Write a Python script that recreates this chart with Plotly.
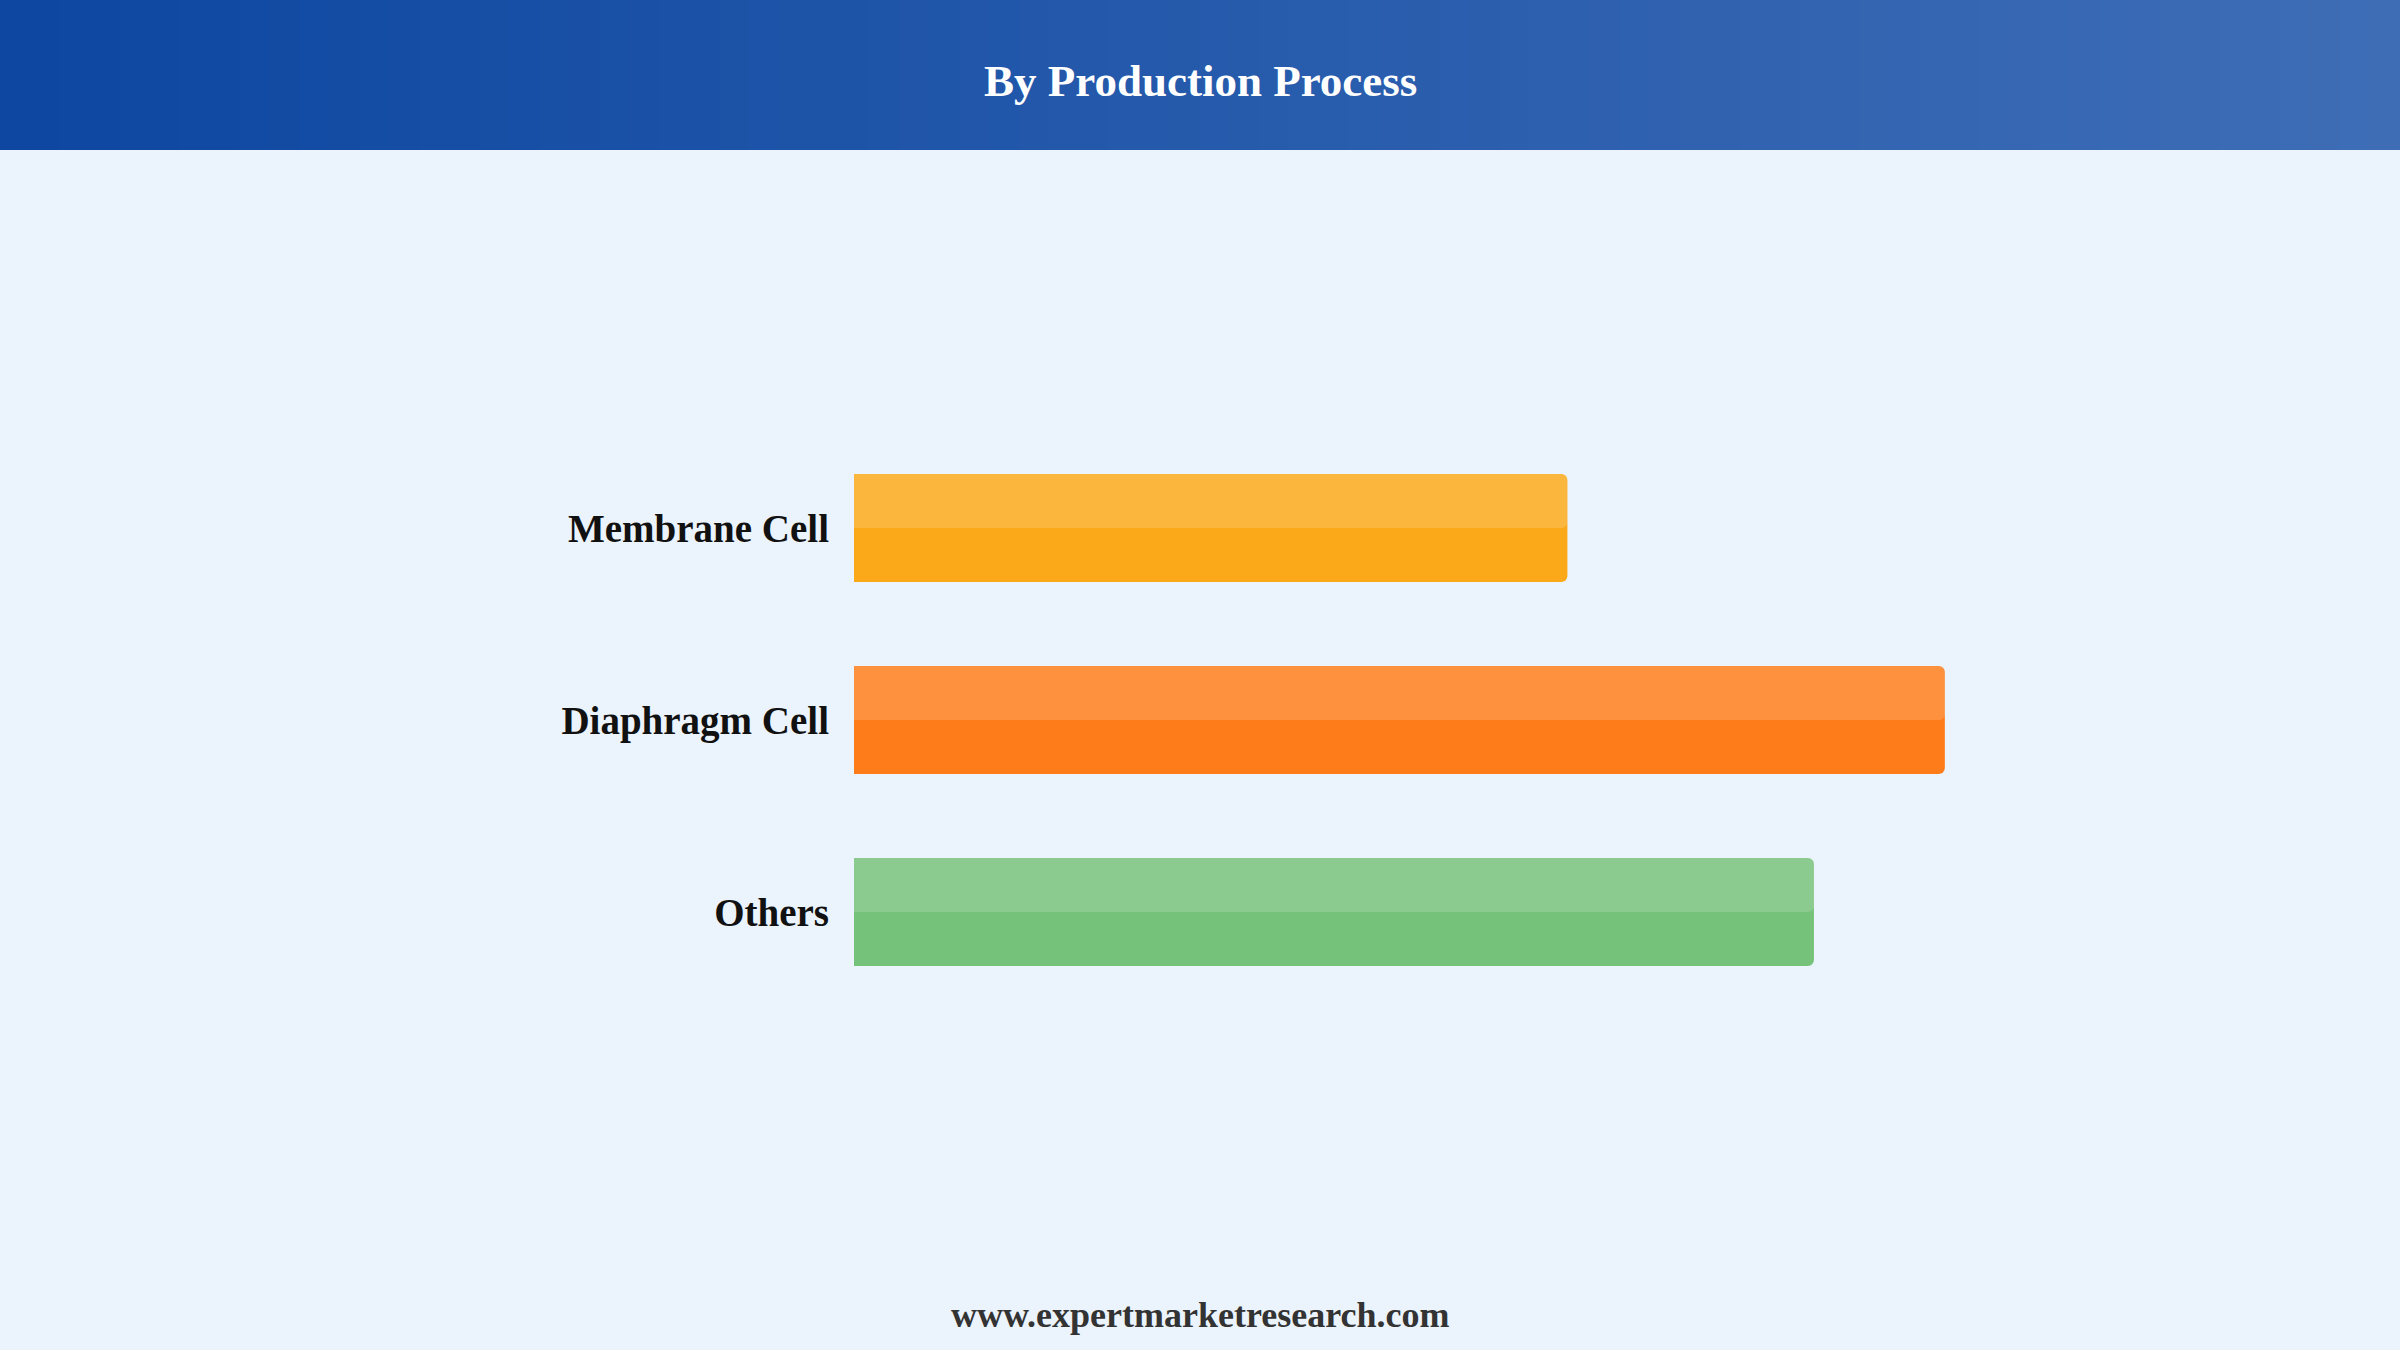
import plotly.graph_objects as go

# Data
categories = ["Membrane Cell", "Diaphragm Cell", "Others"]
values = [32.7, 50.0, 44.0]
bar_colors = ["#FBA919", "#FE7C1A", "#75C27A"]

title_text = "By Production Process"
footer_text = "www.expertmarketresearch.com"

W, H = 2400, 1350
BAR_W = 0.5625
FONT = "Liberation Serif, Times New Roman, serif"

fig = go.Figure()

# main bars
fig.add_trace(go.Bar(
    y=categories, x=values, orientation="h",
    marker=dict(color=bar_colors, line=dict(width=0)),
    width=BAR_W, hoverinfo="skip", showlegend=False,
))
# glossy highlight on top half
fig.add_trace(go.Bar(
    y=categories, x=values, orientation="h",
    marker=dict(color="rgba(255,255,255,0.16)", line=dict(width=0)),
    width=BAR_W / 2, offset=-BAR_W / 2, hoverinfo="skip", showlegend=False,
))

top_margin = 432
bottom_margin = 342
left_margin = 854
right_margin = 237
plot_h = H - top_margin - bottom_margin
plot_w = W - left_margin - right_margin
header_h = 150


def px_to_paper_x(px):
    return (px - left_margin) / plot_w


def px_to_paper_y(py):
    return (H - py - bottom_margin) / plot_h


def lerp(a, b, t):
    return int(round(a + (b - a) * t))


# header gradient (decoration)
c0 = (13, 71, 161)
c1 = (62, 109, 182)
N = 80
shapes = []
for i in range(N):
    t = i / (N - 1)
    col = "rgb(%d,%d,%d)" % (lerp(c0[0], c1[0], t), lerp(c0[1], c1[1], t), lerp(c0[2], c1[2], t))
    shapes.append(dict(
        type="rect", xref="paper", yref="paper",
        x0=px_to_paper_x(W * i / N - 1), x1=px_to_paper_x(W * (i + 1) / N + 1),
        y0=px_to_paper_y(header_h), y1=px_to_paper_y(0),
        fillcolor=col, line=dict(width=0), layer="below",
    ))

fig.update_layout(
    width=W, height=H,
    margin=dict(l=left_margin, r=right_margin, t=top_margin, b=bottom_margin, pad=0),
    paper_bgcolor="#EBF3FC",
    plot_bgcolor="#EBF3FC",
    barmode="overlay",
    barcornerradius=6,
    shapes=shapes,
    xaxis=dict(range=[0, 60], visible=False, fixedrange=True),
    yaxis=dict(
        autorange="reversed", showgrid=False, zeroline=False, showline=False,
        ticks="", ticklabelstandoff=24,
        tickfont=dict(family=FONT, size=39, color="#111111", weight="bold"),
    ),
    annotations=[
        dict(text="<b>%s</b>" % title_text, xref="paper", yref="paper",
             x=px_to_paper_x(W / 2), y=px_to_paper_y(81),
             xanchor="center", yanchor="middle", showarrow=False,
             font=dict(family=FONT, size=45, color="#FFFFFF")),
        dict(text="<b>%s</b>" % footer_text, xref="paper", yref="paper",
             x=px_to_paper_x(W / 2), y=px_to_paper_y(1315),
             xanchor="center", yanchor="middle", showarrow=False,
             font=dict(family=FONT, size=36, color="#333333")),
    ],
)

fig.write_html(
    "out.html",
    config={"displayModeBar": False},
    post_script="document.body.style.margin='0';document.body.style.overflow='hidden';",
)
